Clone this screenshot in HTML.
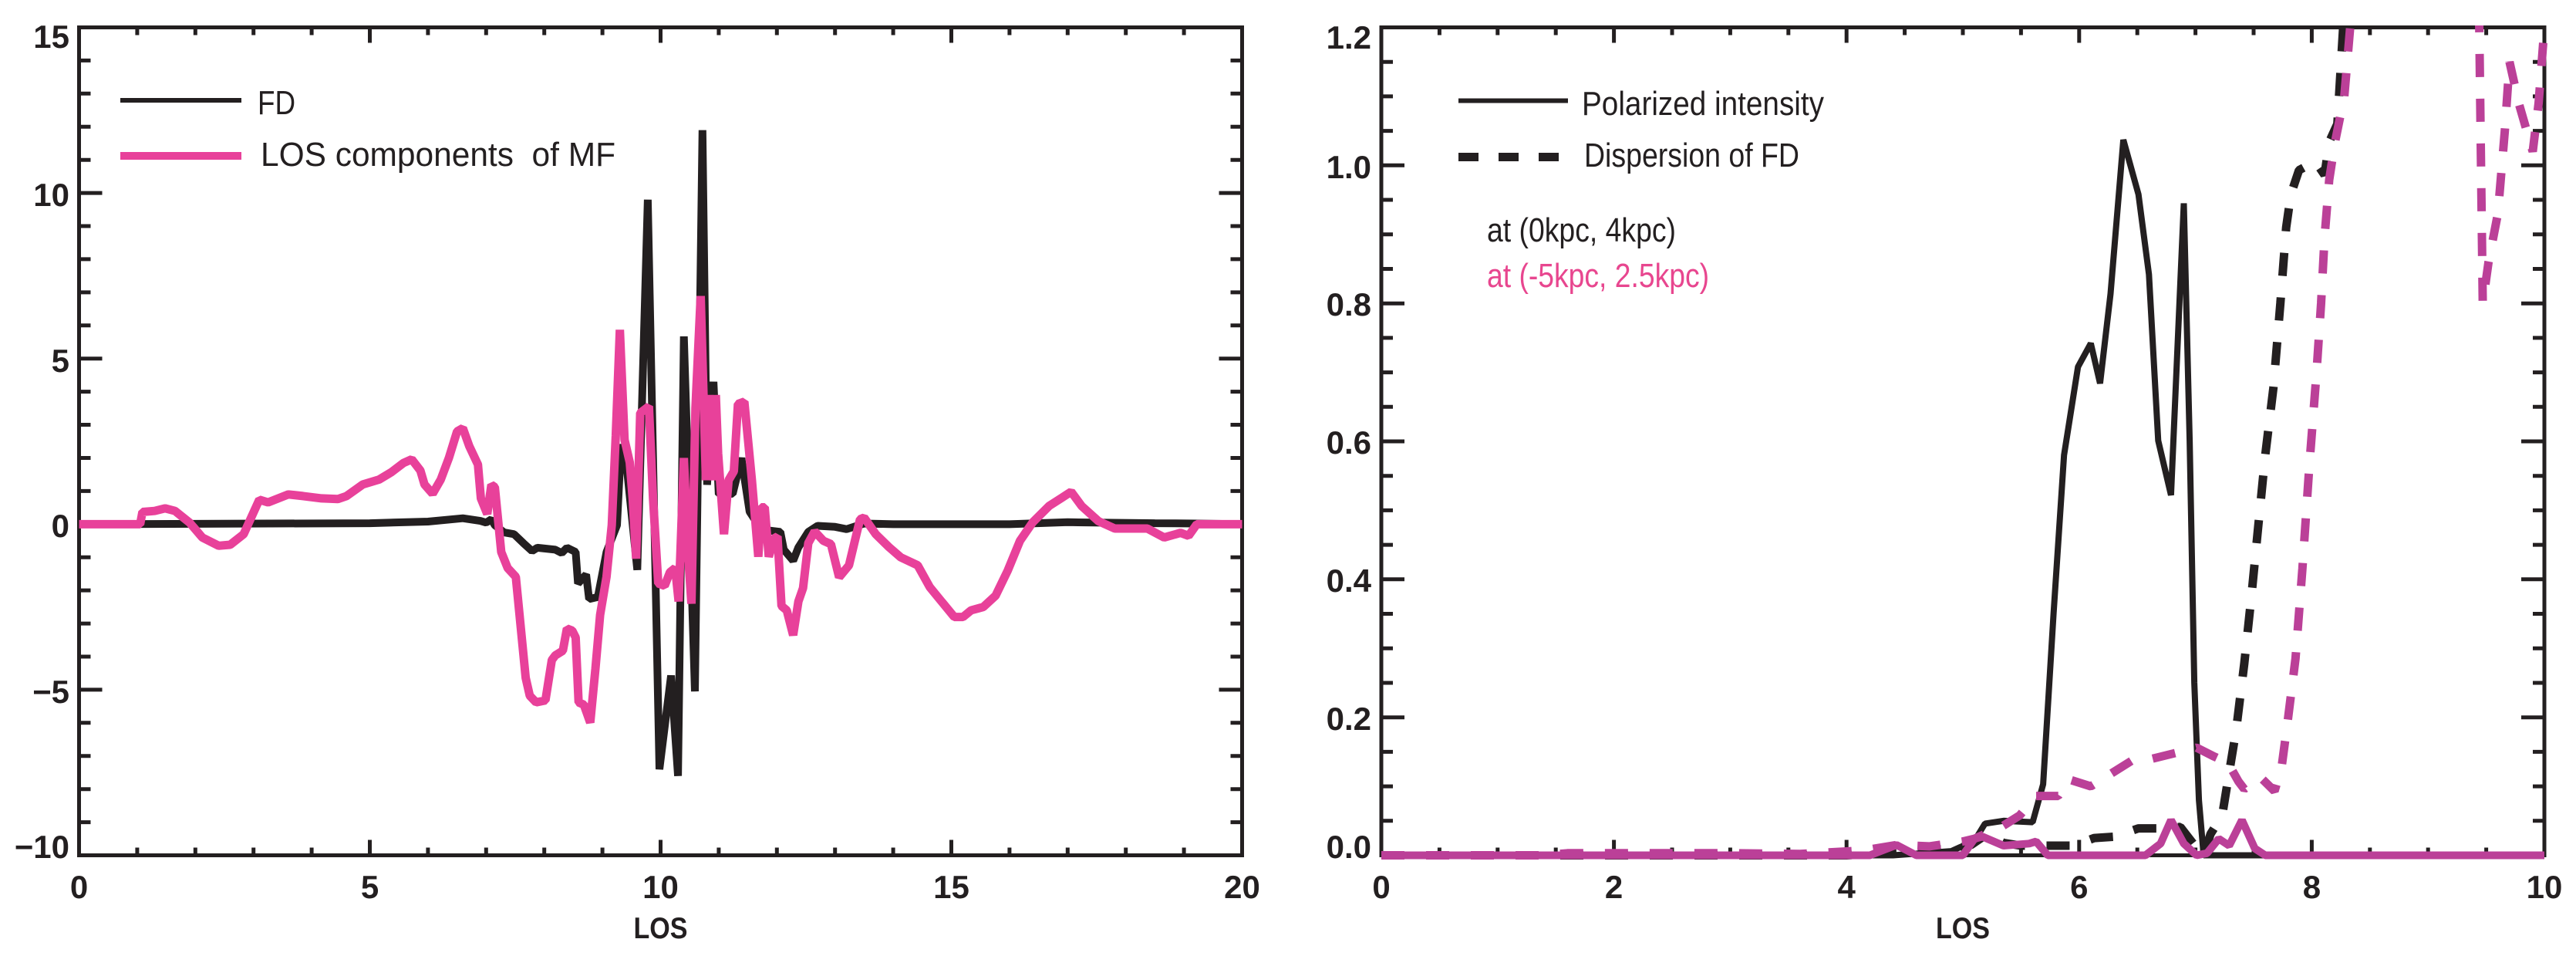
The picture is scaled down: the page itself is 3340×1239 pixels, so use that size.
<!DOCTYPE html>
<html>
<head>
<meta charset="utf-8">
<style>
html,body{margin:0;padding:0;background:#fff;}
svg{display:block;}
.tl{font-family:"Liberation Sans",Arial,sans-serif;font-weight:bold;font-size:42px;fill:#231f20;}
.ax{font-family:"Liberation Sans",Arial,sans-serif;font-weight:bold;font-size:39px;fill:#231f20;}
.lg{font-family:"Liberation Sans",Arial,sans-serif;font-size:44px;fill:#231f20;}
</style>
</head>
<body>
<svg width="3340" height="1239" viewBox="0 0 3340 1239" xmlns="http://www.w3.org/2000/svg">
<rect x="0" y="0" width="3340" height="1239" fill="#ffffff"/>
<defs>
<clipPath id="clipR"><rect x="1789" y="33" width="2513" height="1082"/></clipPath>
</defs>

<!-- ================= LEFT PLOT ================= -->
<rect x="102.5" y="35.5" width="1508" height="1073" fill="none" stroke="#231f20" stroke-width="5"/>
<path fill="none" stroke="#231f20" stroke-width="5" d="
M177.9 1108.5v-10M253.3 1108.5v-10M328.7 1108.5v-10M404.1 1108.5v-10M554.9 1108.5v-10M630.3 1108.5v-10M705.7 1108.5v-10M781.1 1108.5v-10M931.9 1108.5v-10M1007.3 1108.5v-10M1082.7 1108.5v-10M1158.1 1108.5v-10M1308.9 1108.5v-10M1384.3 1108.5v-10M1459.7 1108.5v-10M1535.1 1108.5v-10
M479.5 1108.5v-20M856.5 1108.5v-20M1233.5 1108.5v-20
M177.9 35.5v10M253.3 35.5v10M328.7 35.5v10M404.1 35.5v10M554.9 35.5v10M630.3 35.5v10M705.7 35.5v10M781.1 35.5v10M931.9 35.5v10M1007.3 35.5v10M1082.7 35.5v10M1158.1 35.5v10M1308.9 35.5v10M1384.3 35.5v10M1459.7 35.5v10M1535.1 35.5v10
M479.5 35.5v20M856.5 35.5v20M1233.5 35.5v20
M102.5 78.4h15M102.5 121.3h15M102.5 164.3h15M102.5 207.2h15M102.5 293h15M102.5 335.9h15M102.5 378.9h15M102.5 421.8h15M102.5 507.6h15M102.5 550.5h15M102.5 593.5h15M102.5 636.4h15M102.5 722.2h15M102.5 765.1h15M102.5 808.1h15M102.5 851h15M102.5 936.8h15M102.5 979.7h15M102.5 1022.7h15M102.5 1065.6h15
M102.5 250.1h30M102.5 464.7h30M102.5 679.3h30M102.5 893.9h30
M1610.5 78.4h-15M1610.5 121.3h-15M1610.5 164.3h-15M1610.5 207.2h-15M1610.5 293h-15M1610.5 335.9h-15M1610.5 378.9h-15M1610.5 421.8h-15M1610.5 507.6h-15M1610.5 550.5h-15M1610.5 593.5h-15M1610.5 636.4h-15M1610.5 722.2h-15M1610.5 765.1h-15M1610.5 808.1h-15M1610.5 851h-15M1610.5 936.8h-15M1610.5 979.7h-15M1610.5 1022.7h-15M1610.5 1065.6h-15
M1610.5 250.1h-30M1610.5 464.7h-30M1610.5 679.3h-30M1610.5 893.9h-30"/>

<!-- y labels left -->
<text class="tl" x="90" y="62" text-anchor="end">15</text>
<text class="tl" x="90" y="267" text-anchor="end">10</text>
<text class="tl" x="90" y="482" text-anchor="end">5</text>
<text class="tl" x="90" y="696" text-anchor="end">0</text>
<text class="tl" x="90" y="911" text-anchor="end">−5</text>
<text class="tl" x="90" y="1112" text-anchor="end">−10</text>
<!-- x labels left -->
<text class="tl" x="102.5" y="1164" text-anchor="middle">0</text>
<text class="tl" x="479.5" y="1164" text-anchor="middle">5</text>
<text class="tl" x="856.5" y="1164" text-anchor="middle">10</text>
<text class="tl" x="1233.5" y="1164" text-anchor="middle">15</text>
<text class="tl" x="1610.5" y="1164" text-anchor="middle">20</text>
<text class="ax" x="856.5" y="1216" text-anchor="middle" textLength="70" lengthAdjust="spacingAndGlyphs">LOS</text>

<!-- FD black -->
<polyline fill="none" stroke="#231f20" stroke-width="10" stroke-linejoin="bevel" points="102.5,679.4 479.5,678.1 554.9,676 600.1,671.7 622.8,675.1 630.3,677.3 637.1,673 641.6,680.7 653.7,690.1 666.5,692.3 678.6,703.9 689.9,714.2 696.7,709.9 720,712.4 728.3,716.7 735.1,709.9 746.4,715.4 749.4,756.2 760,744.6 763.8,776.4 775.1,773.8 786.4,715.4 800,680.7 805.3,576 812,599.1 826.3,738.6 839.9,258.8 855,997 870.1,875.5 879.1,1005.6 886.7,436 901,896.1 910.8,168.7 916.8,628.3 925.1,494.8 931.9,640.8 950,639.9 961.3,593.6 971.9,663.1 987,686.3 1011.8,689.3 1016.3,712.4 1028.4,726.6 1035.2,709.4 1048,689.3 1060.1,681.5 1082.7,682.8 1097.8,685.8 1120.4,678.5 1158.1,679.4 1308.9,679.4 1384.3,676.8 1497.4,678.1 1550.2,678.5 1610.5,679.4"/>

<!-- LOS magenta -->
<polyline fill="none" stroke="#e8419a" stroke-width="11" stroke-linejoin="bevel" points="102.5,679.4 181.7,679.4 184.7,663.5 200.5,662.2 214.1,658.8 226.9,662.2 245.8,677.3 262.3,696.6 283.5,707.3 298.5,706 315.9,692.3 336.2,647.6 347.6,651.1 373.9,640.8 392.8,642.9 416.9,645.9 438,646.8 449.3,642.9 470.4,627.9 491.6,621.5 507.4,612 523.2,600 533.8,595.3 545.1,609.9 550.4,627.9 560.9,639.9 571.5,621.5 582,593.6 592.6,559.2 600.1,554.9 608.4,578.1 619.7,602.1 623.5,645.9 631.8,666.1 637.1,628.3 641.6,631.3 649.9,715.4 658.2,736.1 668.8,747.6 681.6,878.5 686.9,901.7 695.1,910.3 707.2,907.7 715.5,855.4 720,849.4 729.8,843.3 735.1,814.6 741.9,817.2 746.4,826.2 750.2,910.3 757,913.3 765.3,936.5 772,867 778.1,797 786.4,747.6 793.2,680.7 798.4,564.4 803.7,427.5 809.8,570 816.5,599.1 820.3,645.9 824.8,724 830.1,535.2 841.4,526.6 846.7,645.9 853.5,756.2 861.8,759.2 868.6,741.6 875.4,736.1 879.9,779.4 886.7,593.6 892,715.4 896.5,782.4 901.7,529.2 908.5,383.7 915.3,622.3 919.8,512 925.1,622.3 928.1,512 931.1,587.6 938.7,692.3 944.7,622.3 951.5,610.7 956.8,523.6 965.1,520.6 974.9,622.3 983.2,721.5 987,657.5 991.5,657.5 996.8,721.5 1003.5,697.9 1008.1,695.3 1013.3,785.4 1020.1,791 1028.4,823.2 1035.2,779.4 1041.2,762.2 1048,703.9 1056.3,688.8 1067.6,700.9 1077.4,705.2 1088,748.1 1100.8,732.6 1115.1,673 1120.4,670.8 1135.5,692.3 1152.1,708.6 1167.9,722.3 1189.8,732.6 1205.6,761 1221.4,780.3 1237.3,799.6 1248.6,799.6 1259.1,791 1274.9,786.7 1290.8,772.1 1306.6,739.5 1322.5,700.9 1339.1,676.8 1360.2,655.8 1376.8,645.1 1388.8,637.3 1402.4,655.8 1424.3,675.5 1445.4,685 1467.2,685 1487.6,685 1509.5,696.6 1530.6,690.6 1541.1,694.4 1551.7,679.4 1610.5,679.4"/>

<!-- left legend -->
<line x1="156" y1="130" x2="313" y2="130" stroke="#231f20" stroke-width="6"/>
<line x1="156" y1="202" x2="313" y2="202" stroke="#e8419a" stroke-width="10"/>
<text class="lg" x="334" y="148" textLength="49" lengthAdjust="spacingAndGlyphs">FD</text>
<text class="lg" x="338" y="215" textLength="460" lengthAdjust="spacingAndGlyphs">LOS components&#160; of MF</text>

<!-- ================= RIGHT PLOT ================= -->
<rect x="1791" y="35.5" width="1508" height="1073" fill="none" stroke="#231f20" stroke-width="5"/>
<path fill="none" stroke="#231f20" stroke-width="5" d="
M1866.4 1108.5v-10M1941.8 1108.5v-10M2017.2 1108.5v-10M2168 1108.5v-10M2243.4 1108.5v-10M2318.8 1108.5v-10M2469.6 1108.5v-10M2545 1108.5v-10M2620.4 1108.5v-10M2771.2 1108.5v-10M2846.6 1108.5v-10M2922 1108.5v-10M3072.8 1108.5v-10M3148.2 1108.5v-10M3223.6 1108.5v-10
M2092.6 1108.5v-20M2394.2 1108.5v-20M2695.8 1108.5v-20M2997.4 1108.5v-20
M1866.4 35.5v10M1941.8 35.5v10M2017.2 35.5v10M2168 35.5v10M2243.4 35.5v10M2318.8 35.5v10M2469.6 35.5v10M2545 35.5v10M2620.4 35.5v10M2771.2 35.5v10M2846.6 35.5v10M2922 35.5v10M3072.8 35.5v10M3148.2 35.5v10M3223.6 35.5v10
M2092.6 35.5v20M2394.2 35.5v20M2695.8 35.5v20M2997.4 35.5v20
M1791 80.2h15M1791 124.9h15M1791 169.6h15M1791 259h15M1791 303.8h15M1791 348.5h15M1791 437.9h15M1791 482.6h15M1791 527.3h15M1791 616.7h15M1791 661.4h15M1791 706.1h15M1791 795.5h15M1791 840.2h15M1791 885h15M1791 974.4h15M1791 1019.1h15M1791 1063.8h15
M1791 214.3h30M1791 393.2h30M1791 572h30M1791 750.8h30M1791 929.7h30
M3299 80.2h-15M3299 124.9h-15M3299 169.6h-15M3299 259h-15M3299 303.8h-15M3299 348.5h-15M3299 437.9h-15M3299 482.6h-15M3299 527.3h-15M3299 616.7h-15M3299 661.4h-15M3299 706.1h-15M3299 795.5h-15M3299 840.2h-15M3299 885h-15M3299 974.4h-15M3299 1019.1h-15M3299 1063.8h-15
M3299 214.3h-30M3299 393.2h-30M3299 572h-30M3299 750.8h-30M3299 929.7h-30"/>

<!-- y labels right -->
<text class="tl" x="1778" y="63" text-anchor="end">1.2</text>
<text class="tl" x="1778" y="231" text-anchor="end">1.0</text>
<text class="tl" x="1778" y="409" text-anchor="end">0.8</text>
<text class="tl" x="1778" y="588" text-anchor="end">0.6</text>
<text class="tl" x="1778" y="767" text-anchor="end">0.4</text>
<text class="tl" x="1778" y="946" text-anchor="end">0.2</text>
<text class="tl" x="1778" y="1112" text-anchor="end">0.0</text>
<!-- x labels right -->
<text class="tl" x="1791" y="1164" text-anchor="middle">0</text>
<text class="tl" x="2092.6" y="1164" text-anchor="middle">2</text>
<text class="tl" x="2394.2" y="1164" text-anchor="middle">4</text>
<text class="tl" x="2695.8" y="1164" text-anchor="middle">6</text>
<text class="tl" x="2997.4" y="1164" text-anchor="middle">8</text>
<text class="tl" x="3299" y="1164" text-anchor="middle">10</text>
<text class="ax" x="2545" y="1216" text-anchor="middle" textLength="70" lengthAdjust="spacingAndGlyphs">LOS</text>

<g clip-path="url(#clipR)">
<!-- black solid: polarized intensity -->
<polyline fill="none" stroke="#231f20" stroke-width="8" stroke-linejoin="bevel" points="1791,1108.5 2454.5,1108.5 2529.9,1103.1 2560.1,1089.7 2573.7,1067.4 2597.8,1063.8 2635.5,1065.6 2649.1,1016.4 2662.6,795.5 2676.2,589.9 2694.3,475.4 2710.9,445 2722.9,496.9 2736.5,380.6 2753.1,181.2 2772.7,251.9 2786.3,355.6 2798.3,571.1 2814.9,641.7 2831.5,263.5 2839.1,572 2845.1,885 2851.1,1037 2857.2,1108.5 3299,1108.5"/>
<!-- black dashed: dispersion -->
<polyline fill="none" stroke="#231f20" stroke-width="11" stroke-dasharray="30 28" stroke-linejoin="bevel" points="1791,1108.5 2394.2,1108.5 2469.6,1104.9 2529.9,1099.6 2555.6,1095.1 2575.2,1081.7 2597.8,1092.4 2620.4,1096 2688.3,1096 2715.4,1086.1 2741,1084.4 2772.7,1073.6 2798.3,1073.6 2827,1071.8 2843.6,1093.3 2857.2,1108.5 2866.2,1080.8 2881.3,1056.6 2890.3,1001.2 2899.4,945.8 2909.9,859.9 2919,774.1 2928,682 2937.1,589.9 2947.6,503.1 2956.7,393.1 2964.2,294.8 2970.3,251.9 2980.8,220.6 3001.9,209 3014,226.8 3020,183.9 3030.6,160.7 3038.1,35.5 3045.7,-53.9"/>
<!-- magenta dashed -->
<polyline fill="none" stroke="#bb4098" stroke-width="11" stroke-dasharray="30 28" stroke-linejoin="bevel" points="1791,1108.5 2002.1,1108.5 2032.3,1105.8 2168,1105.8 2243.4,1105.8 2333.9,1106.7 2416.8,1102.2 2459,1095.1 2501.3,1096.9 2545,1090.6 2560.1,1087 2594.8,1071.8 2618.9,1056.6 2640,1031.6 2668.7,1031.6 2682.2,1010.1 2710.9,1019.1 2739.5,1001.2 2763.7,986 2790.8,983.3 2819.5,976.2 2848.1,969 2869.2,979.7 2888.8,988.7 2902.4,1012.8 2909.9,1022.7 2931,1007.5 2949.1,1025.3 2958.2,994.9 2965.7,938.6 2976.3,853.7 2985.3,736.5 2994.4,601.5 3003.4,485.2 3009.5,393.1 3014,307.3 3020,233.1 3027.6,183.9 3039.6,124.9 3047.2,35.5 3051.7,-53.9 3213,-53.9 3214.6,35.5 3219.1,393.1 3226.6,339.5 3238.7,276.9 3247.7,169.6 3253.8,80.2 3265.8,133.8 3283.9,196.4 3291.5,133.8 3299,35.5 3301,0"/>
<!-- magenta solid -->
<polyline fill="none" stroke="#bb4098" stroke-width="10" stroke-linejoin="bevel" points="1791,1108.5 2424.4,1108.5 2459,1095.1 2484.7,1108.5 2545,1108.5 2560.1,1087 2570.6,1084.4 2597.8,1096 2631,1093.3 2640,1090.6 2655.1,1108.5 2781.8,1108.5 2801.4,1093.3 2814.9,1062.9 2831.5,1093.3 2848.1,1108.5 2861.7,1105.8 2876.8,1087 2890.3,1096 2906.9,1062.9 2923.5,1099.6 2937.1,1108.5 3299,1108.5"/>
</g>

<!-- right legend -->
<line x1="1891" y1="130.5" x2="2033" y2="130.5" stroke="#231f20" stroke-width="6"/>
<line x1="1891" y1="203.5" x2="2021" y2="203.5" stroke="#231f20" stroke-width="11" stroke-dasharray="26 26"/>
<text class="lg" x="2051" y="149" textLength="314" lengthAdjust="spacingAndGlyphs">Polarized intensity</text>
<text class="lg" x="2054" y="216" textLength="279" lengthAdjust="spacingAndGlyphs">Dispersion of FD</text>
<text class="lg" x="1928" y="313" textLength="245" lengthAdjust="spacingAndGlyphs">at (0kpc, 4kpc)</text>
<text class="lg" x="1928" y="372" textLength="288" lengthAdjust="spacingAndGlyphs" style="fill:#e8468f">at (-5kpc, 2.5kpc)</text>
</svg>
</body>
</html>
